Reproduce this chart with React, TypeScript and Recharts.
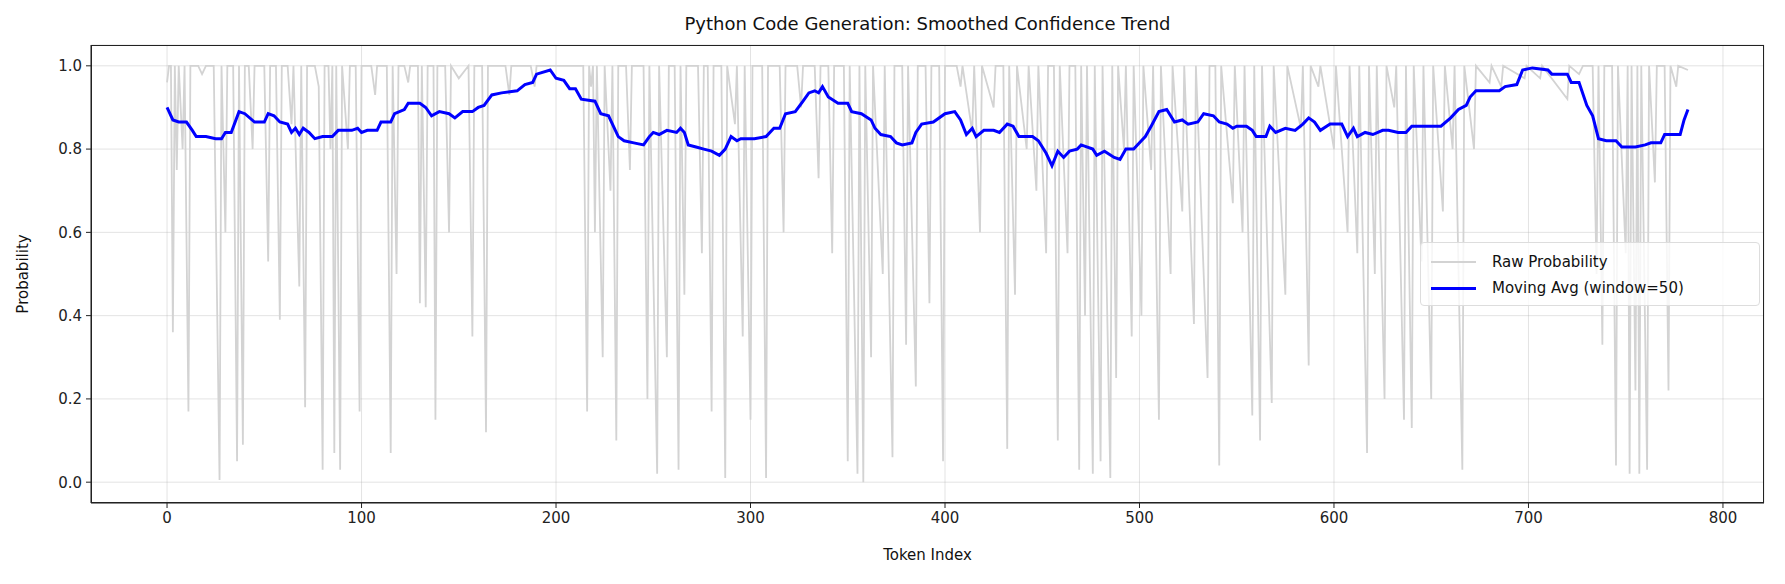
import { LineChart, Line, XAxis, YAxis, CartesianGrid } from 'recharts'

// Raw token probabilities as [token index, probability]
const rawPoints: [number, number][] = [
  [0, 0.96], [1, 1], [2, 1], [3, 0.36], [4, 1], [5, 0.75], [6, 1], [8, 0.8], [9, 1], [11, 0.17], [12, 1],
  [16, 1], [18, 0.98], [20, 1], [24, 1], [27, 0.005], [28, 1], [30, 0.6], [31, 1], [34, 1], [36, 0.05], [37, 1],
  [39, 0.09], [40, 1], [42, 1], [44, 0.8], [45, 1], [50, 1], [52, 0.53], [53, 1], [56, 1], [58, 0.39], [59, 1],
  [62, 1], [64, 0.86], [65, 1], [68, 0.47], [69, 1], [71, 0.18], [72, 1], [76, 1], [78, 0.95], [80, 0.03], [81, 1],
  [83, 1], [84, 0.8], [85, 1], [86, 0.07], [87, 1], [89, 0.03], [90, 1], [93, 0.8], [94, 1], [97, 1], [99, 0.17],
  [100, 1], [105, 1], [107, 0.93], [108, 1], [113, 1], [115, 0.07], [116, 1], [118, 0.5], [119, 1], [122, 1],
  [124, 0.96], [125, 1], [129, 1], [130, 0.43], [131, 1], [133, 0.42], [134, 1], [137, 1], [138, 0.15], [139, 1],
  [143, 1], [145, 0.6], [146, 1], [150, 0.97], [155, 1], [157, 0.35], [158, 1], [162, 1], [164, 0.12], [165, 1],
  [174, 1], [176, 0.93], [177, 1], [187, 1], [189, 0.95], [190, 1], [200, 1], [210, 1], [214, 1], [216, 0.17],
  [217, 1], [218, 0.95], [219, 1], [220, 0.6], [221, 1], [224, 0.3], [225, 1], [228, 0.7], [229, 1], [231, 0.1],
  [232, 1], [236, 1], [238, 0.75], [239, 1], [245, 1], [247, 0.2], [248, 1], [252, 0.02], [253, 1], [257, 0.3],
  [258, 1], [261, 1], [263, 0.03], [264, 1], [266, 0.45], [267, 1], [273, 1], [275, 0.55], [276, 1], [278, 1],
  [280, 0.17], [281, 1], [285, 1], [287, 0.01], [288, 1], [292, 0.86], [293, 1], [296, 0.35], [297, 1], [300, 0.15],
  [301, 1], [306, 1], [308, 0.01], [309, 1], [315, 1], [317, 0.6], [318, 1], [324, 1], [326, 0.9], [327, 1],
  [333, 1], [335, 0.73], [336, 1], [340, 1], [342, 0.55], [343, 1], [348, 1], [350, 0.05], [351, 1], [355, 0.02],
  [356, 1], [358, 0.0], [359, 1], [362, 0.3], [363, 1], [368, 0.5], [369, 1], [373, 0.06], [374, 1], [378, 1],
  [380, 0.33], [381, 1], [385, 0.23], [386, 1], [390, 1], [392, 0.43], [393, 1], [397, 1], [399, 0.05], [400, 1],
  [406, 1], [408, 0.95], [409, 1], [414, 0.84], [415, 1], [418, 0.6], [419, 1], [425, 0.9], [426, 1], [430, 1],
  [432, 0.08], [433, 1], [436, 0.45], [437, 1], [442, 0.8], [443, 1], [447, 0.7], [448, 1], [452, 0.55], [453, 1],
  [456, 1], [458, 0.1], [459, 1], [463, 0.55], [464, 1], [467, 1], [469, 0.03], [470, 1], [472, 0.4], [473, 1],
  [476, 0.02], [477, 1], [480, 0.05], [481, 1], [485, 0.01], [486, 1], [488, 0.25], [489, 1], [492, 0.8], [493, 1],
  [496, 0.35], [497, 1], [501, 0.4], [502, 1], [506, 0.75], [507, 1], [510, 0.15], [511, 1], [516, 0.5], [517, 1],
  [522, 0.65], [523, 1], [528, 0.38], [529, 1], [535, 0.25], [536, 1], [539, 1], [541, 0.04], [542, 1], [548, 0.67],
  [549, 1], [553, 0.6], [554, 1], [558, 0.16], [559, 1], [562, 0.1], [563, 1], [568, 0.19], [569, 1], [575, 0.45],
  [576, 1], [583, 0.85], [584, 1], [587, 0.28], [588, 1], [592, 0.95], [593, 1], [600, 0.8], [601, 1], [607, 0.6],
  [608, 1], [612, 0.55], [613, 1], [617, 0.07], [618, 1], [621, 0.5], [622, 1], [626, 0.2], [627, 1], [631, 0.9],
  [632, 1], [636, 0.15], [637, 1], [640, 0.13], [641, 1], [645, 0.53], [646, 1], [650, 0.2], [651, 1], [656, 0.65],
  [657, 1], [661, 0.8], [662, 1], [666, 0.03], [667, 1], [672, 0.8], [673, 1], [680, 0.96], [681, 1], [686, 0.95],
  [687, 1], [698, 0.97], [699, 1], [706, 0.97], [707, 1], [720, 0.92], [721, 1], [726, 0.98], [728, 1], [733, 1],
  [735, 0.5], [736, 1], [738, 0.33], [739, 1], [743, 1], [745, 0.04], [746, 1], [750, 0.55], [751, 1], [752, 0.02],
  [753, 1], [755, 0.22], [756, 1], [757, 0.02], [758, 1], [761, 0.03], [762, 1], [765, 0.72], [766, 1], [770, 1],
  [772, 0.22], [773, 1], [776, 0.95], [777, 1], [782, 0.99],
]

// Moving average (window=50)
const avgPoints: [number, number][] = [
  [0, 0.9], [3, 0.87], [6, 0.865], [10, 0.865], [13, 0.845], [15, 0.83], [20, 0.83], [25, 0.825], [28, 0.825],
  [30, 0.84], [33, 0.84], [37, 0.89], [40, 0.885], [45, 0.865], [50, 0.865], [52, 0.885], [55, 0.88], [58, 0.865],
  [62, 0.86], [64, 0.84], [66, 0.85], [68, 0.835], [70, 0.85], [73, 0.84], [76, 0.825], [80, 0.83], [85, 0.83],
  [88, 0.845], [95, 0.845], [98, 0.85], [100, 0.84], [103, 0.845], [108, 0.845], [110, 0.865], [115, 0.865],
  [117, 0.885], [122, 0.895], [124, 0.91], [130, 0.91], [133, 0.9], [136, 0.88], [140, 0.89], [145, 0.885],
  [148, 0.875], [152, 0.89], [157, 0.89], [160, 0.9], [163, 0.905], [167, 0.93], [172, 0.935], [180, 0.94],
  [184, 0.955], [188, 0.96], [190, 0.98], [197, 0.99], [200, 0.97], [204, 0.965], [207, 0.945], [210, 0.945],
  [213, 0.92], [220, 0.915], [223, 0.885], [227, 0.88], [229, 0.86], [232, 0.83], [235, 0.82], [240, 0.815],
  [245, 0.81], [248, 0.83], [250, 0.84], [253, 0.835], [257, 0.845], [262, 0.84], [264, 0.85], [266, 0.84],
  [268, 0.81], [272, 0.805], [276, 0.8], [280, 0.795], [284, 0.785], [287, 0.8], [290, 0.83], [293, 0.82],
  [295, 0.825], [302, 0.825], [308, 0.83], [312, 0.85], [315, 0.85], [318, 0.885], [323, 0.89], [327, 0.915],
  [330, 0.935], [333, 0.94], [335, 0.935], [337, 0.95], [340, 0.925], [345, 0.91], [350, 0.91], [352, 0.89],
  [357, 0.885], [362, 0.87], [364, 0.85], [367, 0.835], [372, 0.83], [375, 0.815], [378, 0.81], [383, 0.815],
  [385, 0.84], [388, 0.86], [394, 0.865], [400, 0.885], [405, 0.89], [408, 0.87], [411, 0.835], [414, 0.85],
  [416, 0.83], [420, 0.845], [425, 0.845], [428, 0.84], [432, 0.86], [435, 0.855], [438, 0.83], [445, 0.83],
  [448, 0.82], [452, 0.79], [455, 0.76], [458, 0.795], [461, 0.78], [464, 0.795], [468, 0.8], [470, 0.81],
  [476, 0.8], [478, 0.785], [482, 0.795], [487, 0.78], [490, 0.775], [493, 0.8], [497, 0.8], [500, 0.815],
  [503, 0.83], [506, 0.855], [510, 0.89], [514, 0.895], [518, 0.865], [522, 0.87], [525, 0.86], [530, 0.865],
  [533, 0.885], [538, 0.88], [541, 0.865], [545, 0.86], [548, 0.85], [550, 0.855], [555, 0.855], [558, 0.845],
  [560, 0.83], [565, 0.83], [567, 0.855], [570, 0.84], [575, 0.85], [580, 0.845], [584, 0.86], [587, 0.875],
  [590, 0.865], [593, 0.845], [598, 0.86], [604, 0.86], [607, 0.83], [610, 0.85], [612, 0.83], [616, 0.84],
  [620, 0.835], [625, 0.845], [628, 0.845], [633, 0.84], [637, 0.84], [640, 0.855], [650, 0.855], [655, 0.855],
  [660, 0.875], [664, 0.895], [668, 0.905], [670, 0.925], [673, 0.94], [680, 0.94], [685, 0.94], [688, 0.95],
  [694, 0.955], [697, 0.99], [702, 0.995], [710, 0.99], [712, 0.98], [720, 0.98], [722, 0.96], [726, 0.96],
  [730, 0.905], [733, 0.88], [736, 0.825], [740, 0.82], [745, 0.82], [748, 0.805], [755, 0.805], [760, 0.81],
  [763, 0.815], [768, 0.815], [770, 0.835], [778, 0.835], [780, 0.87], [782, 0.895],
]

const xTicks = [0, 100, 200, 300, 400, 500, 600, 700, 800]
const yTicks = [0, 0.2, 0.4, 0.6, 0.8, 1.0]

const W = 1785
const H = 584
const PLOT = { left: 91, top: 45, right: 1764, bottom: 503 }
const font = '"DejaVu Sans", sans-serif'

export default function App() {
  const raw = rawPoints.map(([x, y]) => ({ x, y }))
  const avg = avgPoints.map(([x, y]) => ({ x, y }))

  return (
    <div style={{ position: 'absolute', left: 0, top: 0, width: W, height: H, background: '#fff', fontFamily: font }}>
      <LineChart width={W} height={H} margin={{ top: PLOT.top, right: W - PLOT.right, bottom: 0, left: 0 }}>
        <CartesianGrid stroke="#b0b0b0" strokeOpacity={0.35} />
        <XAxis
          type="number"
          dataKey="x"
          domain={[-39.1, 821.1]}
          ticks={xTicks}
          allowDataOverflow
          height={H - PLOT.bottom}
          tickSize={5}
          tickMargin={4}
          stroke="#222"
          tick={{ fill: '#222', fontSize: 15, fontFamily: font }}
        />
        <YAxis
          type="number"
          domain={[-0.05, 1.05]}
          ticks={yTicks}
          allowDataOverflow
          width={PLOT.left}
          tickSize={5}
          tickMargin={4}
          stroke="#222"
          tickFormatter={(v: number) => v.toFixed(1)}
          tick={{ fill: '#222', fontSize: 15, fontFamily: font }}
        />
        <Line data={raw} dataKey="y" type="linear" stroke="#d3d3d3" strokeWidth={1.8} dot={false} isAnimationActive={false} />
        <Line data={avg} dataKey="y" type="linear" stroke="#0000ff" strokeWidth={3} dot={false} isAnimationActive={false} />
      </LineChart>

      {/* frame around plot area */}
      <div style={{ position: 'absolute', left: PLOT.left, top: PLOT.top, width: PLOT.right - PLOT.left, height: PLOT.bottom - PLOT.top, border: '1.3px solid #222', boxSizing: 'border-box', pointerEvents: 'none' }} />

      <div style={{ position: 'absolute', left: PLOT.left, width: PLOT.right - PLOT.left, top: 13, textAlign: 'center', fontSize: 18, color: '#111' }}>
        Python Code Generation: Smoothed Confidence Trend
      </div>
      <div style={{ position: 'absolute', left: PLOT.left, width: PLOT.right - PLOT.left, top: 546, textAlign: 'center', fontSize: 15, color: '#111' }}>
        Token Index
      </div>
      <div style={{ position: 'absolute', left: 23, top: 274, transform: 'translate(-50%, -50%) rotate(-90deg)', fontSize: 15, color: '#111' }}>
        Probability
      </div>

      {/* legend */}
      <div style={{ position: 'absolute', left: 1420, top: 242, width: 340, height: 64, boxSizing: 'border-box', border: '1px solid #ddd', borderRadius: 4, background: 'rgba(255,255,255,0.8)', fontSize: 15, color: '#111', padding: '6px 10px' }}>
        <div style={{ display: 'flex', alignItems: 'center', height: 26 }}>
          <span style={{ display: 'inline-block', width: 45, height: 2, background: '#d3d3d3', marginRight: 16 }} />
          Raw Probability
        </div>
        <div style={{ display: 'flex', alignItems: 'center', height: 26 }}>
          <span style={{ display: 'inline-block', width: 45, height: 3, background: '#0000ff', marginRight: 16 }} />
          Moving Avg (window=50)
        </div>
      </div>
    </div>
  )
}
